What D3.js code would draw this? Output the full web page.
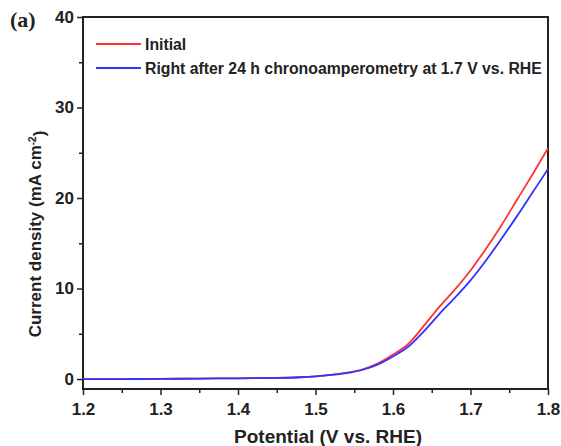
<!DOCTYPE html>
<html>
<head>
<meta charset="utf-8">
<script src="https://cdn.jsdelivr.net/npm/d3@7"></script>
<style>
  body { margin: 0; background: #fff; }
  text { font-family: "Liberation Sans", Arial, sans-serif; font-weight: bold; fill: #222; }
</style>
</head>
<body>
<div class="container"></div>
<script>
// Data
const potential = [1.2, 1.25, 1.3, 1.35, 1.4, 1.45, 1.48, 1.5, 1.52, 1.54, 1.56, 1.58, 1.6, 1.62, 1.64, 1.66, 1.68, 1.7, 1.72, 1.74, 1.76, 1.78, 1.8]
const initial = [0, 0, 0.02, 0.05, 0.08, 0.12, 0.2, 0.3, 0.45, 0.7, 1.05, 1.7, 2.7, 3.9, 5.9, 8.0, 9.9, 12.0, 14.4, 17.0, 19.8, 22.6, 25.5]
const after24h = [0, 0, 0.02, 0.05, 0.08, 0.12, 0.2, 0.3, 0.45, 0.65, 1.0, 1.6, 2.5, 3.6, 5.3, 7.2, 9.0, 10.9, 13.1, 15.5, 18.0, 20.6, 23.2]
const seriesNames = ["Initial", "Right after 24 h chronoamperometry at 1.7 V vs. RHE"]
const seriesColors = ["#ff3333", "#3333ff"]
const xTicks = [1.2, 1.3, 1.4, 1.5, 1.6, 1.7, 1.8]
const yTicks = [0, 10, 20, 30, 40]

let outerWidth = 561
let outerHeight = 446
let margin = {top: 17, bottom: 57, left: 83, right: 13}
let width = outerWidth - margin.left - margin.right
let height = outerHeight - margin.top - margin.bottom

const svgRoot = d3.select(".container")
    .append("svg")
    .attr("width", outerWidth)
    .attr("height", outerHeight)

const svg = svgRoot.append("g")
    .attr("transform", `translate(${margin.left}, ${margin.top})`)

const x = d3.scaleLinear().domain([1.2, 1.8]).range([0, width])
const y = d3.scaleLinear().domain([-1.1, 40]).range([height, 0])

// Minor ticks
const xMinor = d3.range(1.25, 1.8, 0.1)
const yMinor = d3.range(5, 40, 10)

const xAxis = svg.append("g")
    .attr("transform", `translate(0, ${height})`)
    .call(d3.axisBottom(x).tickValues(xTicks).tickFormat(d3.format(".1f")).tickSize(6).tickPadding(8))
xAxis.selectAll(".tick text").style("font-size", "17px")

svg.append("g")
    .attr("transform", `translate(0, ${height})`)
    .call(d3.axisBottom(x).tickValues(xMinor).tickFormat("").tickSize(4))
    .call(g => g.select(".domain").remove())

const yAxis = svg.append("g")
    .call(d3.axisLeft(y).tickValues(yTicks).tickSize(6).tickPadding(3))
yAxis.selectAll(".tick text").style("font-size", "17px")

svg.append("g")
    .call(d3.axisLeft(y).tickValues(yMinor).tickFormat("").tickSize(4))
    .call(g => g.select(".domain").remove())

svg.selectAll(".tick line").attr("stroke", "#222").attr("stroke-width", 1.5)
svg.selectAll(".domain").remove()

// Frame
svg.append("rect")
    .attr("width", width)
    .attr("height", height)
    .attr("fill", "none")
    .attr("stroke", "#222")
    .attr("stroke-width", 2)

// Curves
const line = d3.line()
    .x((d, i) => x(potential[i]))
    .y(d => y(d))
    .curve(d3.curveMonotoneX)

svg.append("path")
    .datum(initial)
    .attr("d", line)
    .attr("fill", "none")
    .attr("stroke", seriesColors[0])
    .attr("stroke-width", 1.8)

svg.append("path")
    .datum(after24h)
    .attr("d", line)
    .attr("fill", "none")
    .attr("stroke", seriesColors[1])
    .attr("stroke-width", 1.8)

// Legend
const legend = svg.selectAll(".legend")
    .data(seriesNames)
    .join("g")
    .attr("class", "legend")
    .attr("transform", (d, i) => `translate(13, ${27 + i * 24})`)

legend.append("line")
    .attr("x1", 0).attr("x2", 45)
    .attr("stroke", (d, i) => seriesColors[i])
    .attr("stroke-width", 1.8)

legend.append("text")
    .attr("x", 49)
    .attr("dy", "0.35em")
    .style("font-size", "15.8px")
    .text(d => d)

// Axis titles
svgRoot.append("text")
    .attr("x", 328)
    .attr("y", 443)
    .attr("text-anchor", "middle")
    .style("font-size", "19px")
    .text("Potential (V vs. RHE)")

const yt = svgRoot.append("text")
    .attr("transform", `translate(41, 234) rotate(-90)`)
    .attr("text-anchor", "middle")
    .style("font-size", "17px")
yt.append("tspan").text("Current density (mA cm")
yt.append("tspan").attr("dy", "-0.5em").style("font-size", "10px").text("-2")
yt.append("tspan").attr("dy", "0.5em").text(")")

svgRoot.append("text")
    .attr("x", 10)
    .attr("y", 27)
    .style("font-family", "'Liberation Serif', 'DejaVu Serif', serif")
    .style("font-size", "22px")
    .text("(a)")
</script>
</body>
</html>
